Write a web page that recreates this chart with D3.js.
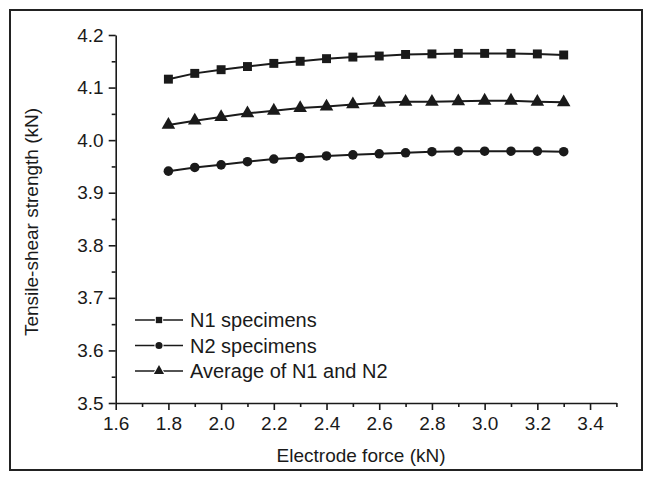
<!DOCTYPE html>
<html>
<head>
<meta charset="utf-8">
<script src="https://cdn.jsdelivr.net/npm/d3@7/dist/d3.min.js"></script>
<style>
  body { margin: 0; background: #fff; }
  svg text { font-family: "Liberation Sans", Arial, sans-serif; fill: #1a1a1a; }
</style>
</head>
<body>
<div id="container"></div>
<script>
// data
var forces = [1.8, 1.9, 2.0, 2.1, 2.2, 2.3, 2.4, 2.5, 2.6, 2.7, 2.8, 2.9, 3.0, 3.1, 3.2, 3.3];
var n1 = [4.116, 4.127, 4.134, 4.140, 4.146, 4.150, 4.155, 4.158, 4.160, 4.163, 4.164, 4.165, 4.165, 4.165, 4.164, 4.162];
var n2 = [3.941, 3.948, 3.953, 3.959, 3.964, 3.967, 3.970, 3.972, 3.974, 3.976, 3.978, 3.979, 3.979, 3.979, 3.979, 3.978];
var avg = [4.029, 4.037, 4.044, 4.051, 4.056, 4.061, 4.064, 4.068, 4.071, 4.073, 4.073, 4.074, 4.075, 4.075, 4.073, 4.072];
var seriesNames = ["N1 specimens", "N2 specimens", "Average of N1 and N2"];
var xTicks = [1.6, 1.8, 2.0, 2.2, 2.4, 2.6, 2.8, 3.0, 3.2, 3.4];
var yTicks = [3.5, 3.6, 3.7, 3.8, 3.9, 4.0, 4.1, 4.2];

var width = 648, height = 480;
var plot = {left: 115.7, right: 616.4, top: 35, bottom: 403};

var svg = d3.select("#container").append("svg")
    .attr("width", width)
    .attr("height", height);

// outer frame
svg.append("rect")
    .attr("x", 10).attr("y", 10)
    .attr("width", 632).attr("height", 460)
    .attr("fill", "none")
    .attr("stroke", "#222")
    .attr("stroke-width", 2);

var xScale = d3.scaleLinear().domain([1.6, 3.5]).range([plot.left, plot.right]);
var yScale = d3.scaleLinear().domain([3.5, 4.2]).range([plot.bottom, plot.top]);

// minor ticks first
var xMinor = d3.range(1.7, 3.51, 0.2);
var yMinor = d3.range(3.55, 4.2, 0.1);

svg.append("g")
    .attr("transform", "translate(0," + plot.bottom + ")")
    .call(d3.axisBottom(xScale).tickValues(xMinor).tickSize(4).tickFormat(""))
    .call(function(g){ g.select(".domain").remove(); });

svg.append("g")
    .attr("transform", "translate(" + plot.left + ",0)")
    .call(d3.axisLeft(yScale).tickValues(yMinor).tickSize(4).tickFormat(""))
    .call(function(g){ g.select(".domain").remove(); });

var xAxis = svg.append("g")
    .attr("transform", "translate(0," + plot.bottom + ")")
    .call(d3.axisBottom(xScale).tickValues(xTicks).tickSize(7).tickSizeOuter(0).tickPadding(7)
        .tickFormat(d3.format(".1f")));

var yAxis = svg.append("g")
    .attr("transform", "translate(" + plot.left + ",0)")
    .call(d3.axisLeft(yScale).tickValues(yTicks).tickSize(7).tickSizeOuter(0).tickPadding(5)
        .tickFormat(d3.format(".1f")));

svg.selectAll(".domain, .tick line").attr("stroke", "#1a1a1a").attr("stroke-width", 1.6);
svg.selectAll(".tick text").style("font-size", "19px").style("fill", "#1a1a1a")
    .style("font-family", "'Liberation Sans', Arial, sans-serif");

// axis titles
svg.append("text")
    .attr("x", (plot.left + plot.right) / 2 - 5)
    .attr("y", 462)
    .attr("text-anchor", "middle")
    .style("font-size", "19px")
    .text("Electrode force (kN)");

svg.append("text")
    .attr("transform", "translate(38,222) rotate(-90)")
    .attr("text-anchor", "middle")
    .style("font-size", "19px")
    .text("Tensile-shear strength (kN)");

// series
var seriesData = [n1, n2, avg];
var symbols = [d3.symbolSquare, d3.symbolCircle, d3.symbolTriangle];
var symSizes = [80, 72, 80];
var legendSizes = [40, 40, 45];

var line = d3.line()
    .x(function(d){ return xScale(d[0]); })
    .y(function(d){ return yScale(d[1]); });

seriesData.forEach(function(vals, i){
    var pts = forces.map(function(f, j){ return [f, vals[j]]; });
    svg.append("path")
        .datum(pts)
        .attr("d", line)
        .attr("fill", "none")
        .attr("stroke", "#1a1a1a")
        .attr("stroke-width", 2);
    svg.selectAll(".mark" + i)
        .data(pts)
        .enter()
        .append("path")
        .attr("class", "mark" + i)
        .attr("transform", function(d){ return "translate(" + xScale(d[0]) + "," + yScale(d[1]) + ")"; })
        .attr("d", d3.symbol().type(symbols[i]).size(symSizes[i]))
        .attr("fill", "#1a1a1a");
});

// legend
var legend = svg.append("g").attr("transform", "translate(135,320)");
seriesNames.forEach(function(name, i){
    var g = legend.append("g").attr("transform", "translate(0," + (i * 25.5) + ")");
    g.append("line")
        .attr("x1", 0).attr("x2", 48)
        .attr("y1", 0).attr("y2", 0)
        .attr("stroke", "#1a1a1a").attr("stroke-width", 1.6);
    g.append("path")
        .attr("transform", "translate(24,0)")
        .attr("d", d3.symbol().type(symbols[i]).size(legendSizes[i]))
        .attr("fill", "#1a1a1a")
        .attr("stroke", "#fff").attr("stroke-width", 2).attr("paint-order", "stroke");
    g.append("text")
        .attr("x", 55)
        .attr("y", 7)
        .style("font-size", "20px")
        .text(name);
});
</script>
</body>
</html>
